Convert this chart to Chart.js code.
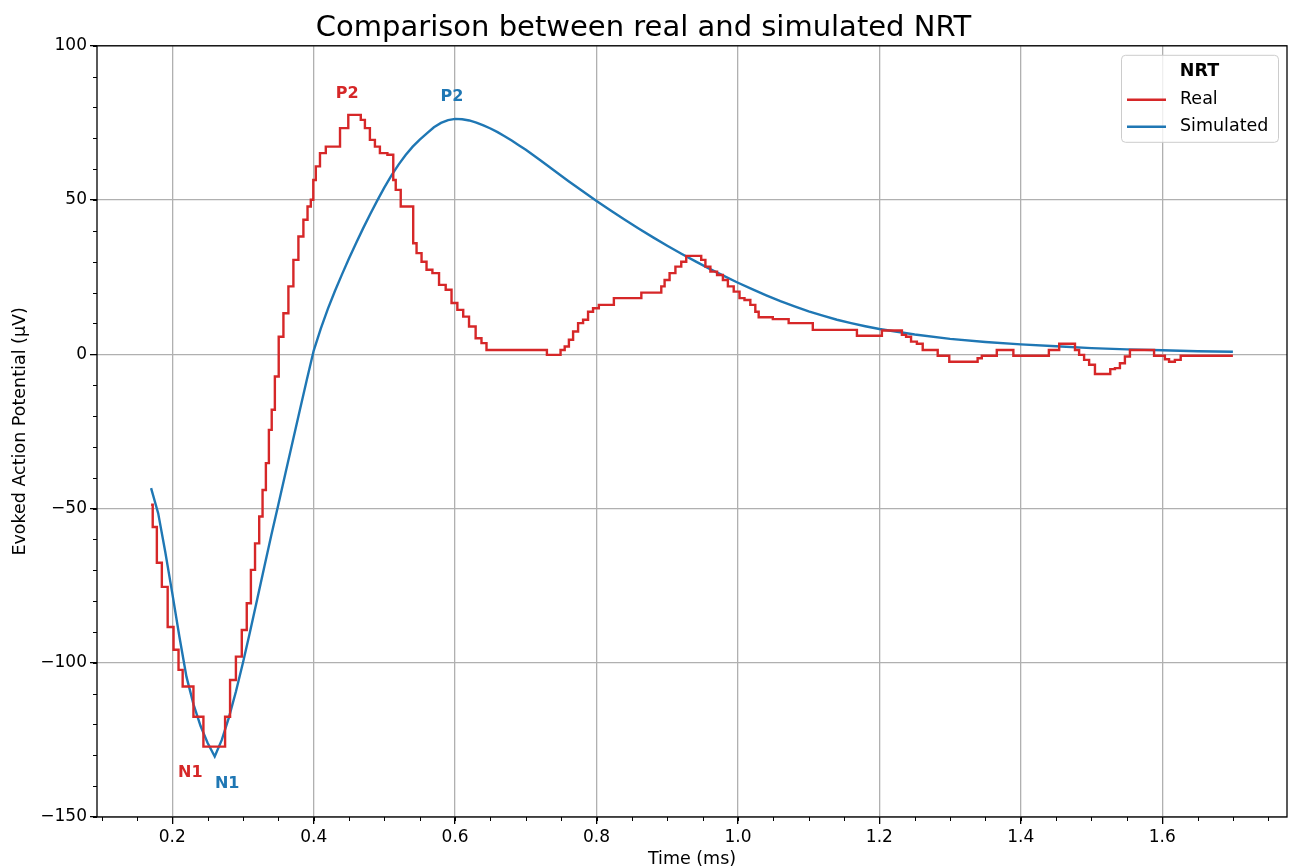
<!DOCTYPE html>
<html>
<head>
<meta charset="utf-8">
<script src="https://cdn.jsdelivr.net/npm/chart.js@4.4.1/dist/chart.umd.min.js"></script>
<style>
html,body{margin:0;padding:0;background:#fff;}
canvas{display:block;}
</style>
</head>
<body>
<canvas id="c" width="1293" height="868"></canvas>
<script>
// ---- data ----
const realX = [0.17,0.1746,0.1817,0.1887,0.1982,0.2053,0.2123,0.217,0.2287,0.2311,0.2428,0.2452,0.2711,0.2782,0.2852,0.2947,0.3018,0.3088,0.3135,0.3205,0.3253,0.33,0.3347,0.3385,0.3427,0.3474,0.3536,0.3607,0.3677,0.3748,0.3819,0.3889,0.3936,0.3982,0.4006,0.4053,0.4124,0.4218,0.436,0.4384,0.4477,0.4501,0.4642,0.4689,0.4759,0.483,0.4901,0.4971,0.5113,0.5137,0.5183,0.5278,0.5395,0.5419,0.549,0.556,0.5631,0.5726,0.5819,0.5914,0.5984,0.6079,0.615,0.6243,0.6337,0.6408,0.6479,0.728,0.7316,0.7468,0.7514,0.7585,0.7633,0.7704,0.7774,0.7845,0.7915,0.7986,0.8079,0.8221,0.8269,0.8622,0.8645,0.8904,0.8927,0.8998,0.9068,0.9163,0.9233,0.9304,0.9445,0.9516,0.9563,0.9657,0.9752,0.9822,0.9893,0.9987,1.0057,1.0128,1.0222,1.0269,1.0317,1.0481,1.0505,1.0693,1.0741,1.1023,1.1094,1.1659,1.1706,1.2012,1.2059,1.2295,1.2342,1.2413,1.2483,1.2578,1.2648,1.279,1.286,1.2953,1.3024,1.3354,1.3425,1.3472,1.3637,1.3684,1.3871,1.3919,1.438,1.4414,1.4531,1.4555,1.4743,1.479,1.486,1.4931,1.5002,1.5096,1.5247,1.5284,1.5379,1.5425,1.552,1.5567,1.5873,1.5897,1.6014,1.6062,1.6132,1.6226,1.6297,1.70];
const realY = [-48.8,-56,-67.6,-75.4,-88.4,-95.8,-102.3,-107.7,-107.7,-117.5,-117.5,-127.2,-127.2,-117.5,-105.6,-98,-89.4,-80.7,-69.9,-61.3,-52.6,-44,-35.3,-24.5,-18,-7.2,5.7,13.3,22,30.6,38.2,43.6,47.9,50.1,56.5,60.9,65.2,67.3,67.3,73.3,73.3,77.6,77.6,76,73.3,69.5,67.3,65.2,64.7,56.5,53.3,47.9,47.9,36,32.8,30,27.4,26.3,22.5,20.9,16.6,14.4,12.2,9,5.2,3.6,1.4,1.4,-0.2,-0.2,1.4,2.5,4.7,7.4,10.1,11.2,13.8,14.9,16,16,18.2,18.2,20,20,22,24.1,26.3,28.4,30,31.9,31.9,30.6,28.4,26.8,25.7,24.1,22,20.3,18.2,17.6,16,13.8,12,12,11.4,11.4,10.1,10.1,7.9,7.9,6,6,7.7,7.7,6.3,5.7,4.1,3.4,1.4,1.4,-0.5,-0.5,-2.4,-2.4,-1.3,-0.5,-0.5,1.4,1.4,-0.5,-0.5,1.4,1.4,3.4,3.4,1.4,-0.2,-1.8,-3.4,-6.4,-6.4,-4.8,-4.5,-2.9,-0.7,1.4,1.4,-0.5,-0.5,-1.6,-2.4,-1.8,-0.5,-0.5];

const simX = [0.17,0.18,0.19,0.20,0.21,0.22,0.23,0.24,0.25,0.26,0.27,0.28,0.29,0.30,0.31,0.32,0.33,0.34,0.35,0.36,0.37,0.38,0.39,0.40,0.41,0.42,0.43,0.44,0.45,0.46,0.47,0.48,0.49,0.50,0.51,0.52,0.53,0.54,0.55,0.56,0.57,0.58,0.59,0.60,0.61,0.62,0.63,0.64,0.65,0.66,0.67,0.68,0.69,0.70,0.72,0.74,0.76,0.78,0.80,0.82,0.84,0.86,0.88,0.90,0.92,0.94,0.96,0.98,1.00,1.02,1.04,1.06,1.08,1.10,1.12,1.14,1.16,1.18,1.20,1.25,1.30,1.35,1.40,1.45,1.50,1.55,1.60,1.65,1.70];
const simY = [-43.4,-51.5,-64,-77.5,-91.5,-104.5,-113.5,-120.5,-126.0,-130.4,-125.0,-117.8,-109.3,-99.9,-89.9,-79.5,-69.0,-58.7,-48.7,-38.6,-28.5,-18.5,-8.5,1.2,8.3,14.7,20.5,25.9,31.1,36.1,40.9,45.5,49.9,54.1,58.0,61.5,64.6,67.3,69.6,71.6,73.6,75.0,75.9,76.3,76.2,75.8,75.1,74.2,73.2,72.0,70.7,69.3,67.8,66.3,63.0,59.6,56.2,52.9,49.7,46.6,43.6,40.7,37.9,35.2,32.6,30.1,27.7,25.4,23.2,21.1,19.1,17.2,15.5,13.9,12.5,11.2,10.1,9.1,8.2,6.4,5.0,4.0,3.2,2.6,2.0,1.6,1.3,1.0,0.8];

const xTickValues = [0.2,0.4,0.6,0.8,1.0,1.2,1.4,1.6];
const yTickValues = [-150,-100,-50,0,50,100];

const seriesLabels = ['Real','Simulated'];
const legendTitle = 'NRT';
const chartTitle = 'Comparison between real and simulated NRT';
const xTitle = 'Time (ms)';
const yTitle = 'Evoked Action Potential (μV)';

// peak labels: [text, x, y, seriesIndex]
const peakLabels = [
  ['N1', 0.2255, -135.7, 0],
  ['N1', 0.2777, -139.3, 1],
  ['P2', 0.4473, 84.4, 0],
  ['P2', 0.5956, 83.5, 1]
];

// ---- styling ----
const RED = '#d62728', BLUE = '#1f77b4';
const FONT = 'DejaVu Sans';
Chart.defaults.font.family = FONT;
Chart.defaults.color = '#000';

const toPts = (xs, ys) => xs.map((x, i) => ({x: x, y: ys[i]}));
const fmtMinus = v => String(v).replace('-', '\u2212');

const extras = {
  id: 'extras',
  afterDraw(chart) {
    const ctx = chart.ctx, a = chart.chartArea;
    const xs = chart.scales.x, ys = chart.scales.y;
    ctx.save();
    // frame
    ctx.strokeStyle = '#000';
    ctx.lineWidth = 1.3;
    ctx.strokeRect(a.left, a.top, a.right - a.left, a.bottom - a.top);
    // minor ticks
    ctx.lineWidth = 1.0;
    ctx.beginPath();
    for (let v = Math.ceil(xs.min / 0.05) * 0.05; v <= xs.max + 1e-9; v += 0.05) {
      const px = Math.round(xs.getPixelForValue(v)) + 0.5;
      ctx.moveTo(px, a.bottom); ctx.lineTo(px, a.bottom + 4);
    }
    for (let v = ys.min; v <= ys.max + 1e-9; v += 10) {
      const py = Math.round(ys.getPixelForValue(v)) + 0.5;
      ctx.moveTo(a.left, py); ctx.lineTo(a.left - 4, py);
    }
    ctx.stroke();
    // peak labels
    ctx.font = 'bold 16px ' + FONT;
    ctx.textAlign = 'center';
    ctx.textBaseline = 'middle';
    peakLabels.forEach(p => {
      ctx.fillStyle = chart.data.datasets[p[3]].borderColor;
      ctx.fillText(p[0], xs.getPixelForValue(p[1]), ys.getPixelForValue(p[2]));
    });
    // legend
    const w = 157, h = 87;
    const L = a.right - 9 - w, T = a.top + 9;
    ctx.beginPath();
    ctx.roundRect(L + 0.5, T + 0.5, w, h, 4);
    ctx.fillStyle = 'rgba(255,255,255,0.8)';
    ctx.fill();
    ctx.strokeStyle = '#cccccc';
    ctx.lineWidth = 1;
    ctx.stroke();
    ctx.fillStyle = '#000';
    ctx.font = 'bold 17.5px ' + FONT;
    ctx.textAlign = 'center';
    ctx.fillText(legendTitle, L + w / 2, T + 17);
    ctx.font = '17.5px ' + FONT;
    ctx.textAlign = 'left';
    chart.data.datasets.forEach((ds, i) => {
      const y = T + 45 + i * 27;
      ctx.strokeStyle = ds.borderColor;
      ctx.lineWidth = 2.4;
      ctx.beginPath();
      ctx.moveTo(L + 6, y); ctx.lineTo(L + 45, y);
      ctx.stroke();
      ctx.fillStyle = '#000';
      ctx.fillText(ds.label, L + 59, y);
    });
    ctx.restore();
  }
};

new Chart(document.getElementById('c'), {
  type: 'line',
  data: {
    datasets: [
      {label: seriesLabels[0], data: toPts(realX, realY), borderColor: RED, backgroundColor: RED,
       borderWidth: 2.4, pointRadius: 0, stepped: 'middle', fill: false},
      {label: seriesLabels[1], data: toPts(simX, simY), borderColor: BLUE, backgroundColor: BLUE,
       borderWidth: 2.4, pointRadius: 0, tension: 0, fill: false}
    ]
  },
  options: {
    responsive: false,
    animation: false,
    devicePixelRatio: 1,
    layout: {padding: {left: 0, right: 6, top: 0, bottom: 0}},
    plugins: {
      legend: {display: false},
      tooltip: {enabled: false},
      title: {
        display: true, text: chartTitle, color: '#000',
        font: {family: FONT, size: 29, weight: 'normal'},
        padding: {top: 11, bottom: 0}
      }
    },
    scales: {
      x: {
        type: 'linear', min: 0.0935, max: 1.7765,
        afterBuildTicks: s => { s.ticks = xTickValues.map(v => ({value: v})); },
        afterFit: s => { s.height = 51; },
        ticks: {callback: v => v.toFixed(1), font: {size: 17}, color: '#000', padding: 3, maxRotation: 0, autoSkip: false},
        grid: {color: '#b0b0b0', lineWidth: 1.3, tickColor: '#000', tickLength: 7, drawTicks: true},
        border: {display: false},
        title: {display: true, text: xTitle, font: {size: 17.5}, color: '#000', padding: {top: 0, bottom: -2}}
      },
      y: {
        type: 'linear', min: -150, max: 100,
        afterBuildTicks: s => { s.ticks = yTickValues.map(v => ({value: v})); },
        afterFit: s => { s.width = 97; },
        ticks: {callback: v => fmtMinus(v), font: {size: 17}, color: '#000', padding: 3},
        grid: {color: '#b0b0b0', lineWidth: 1.3, tickColor: '#000', tickLength: 7},
        border: {display: false},
        title: {display: true, text: yTitle, font: {size: 17.5}, color: '#000', padding: {top: 10, bottom: 0}}
      }
    }
  },
  plugins: [extras]
});
</script>
</body>
</html>
